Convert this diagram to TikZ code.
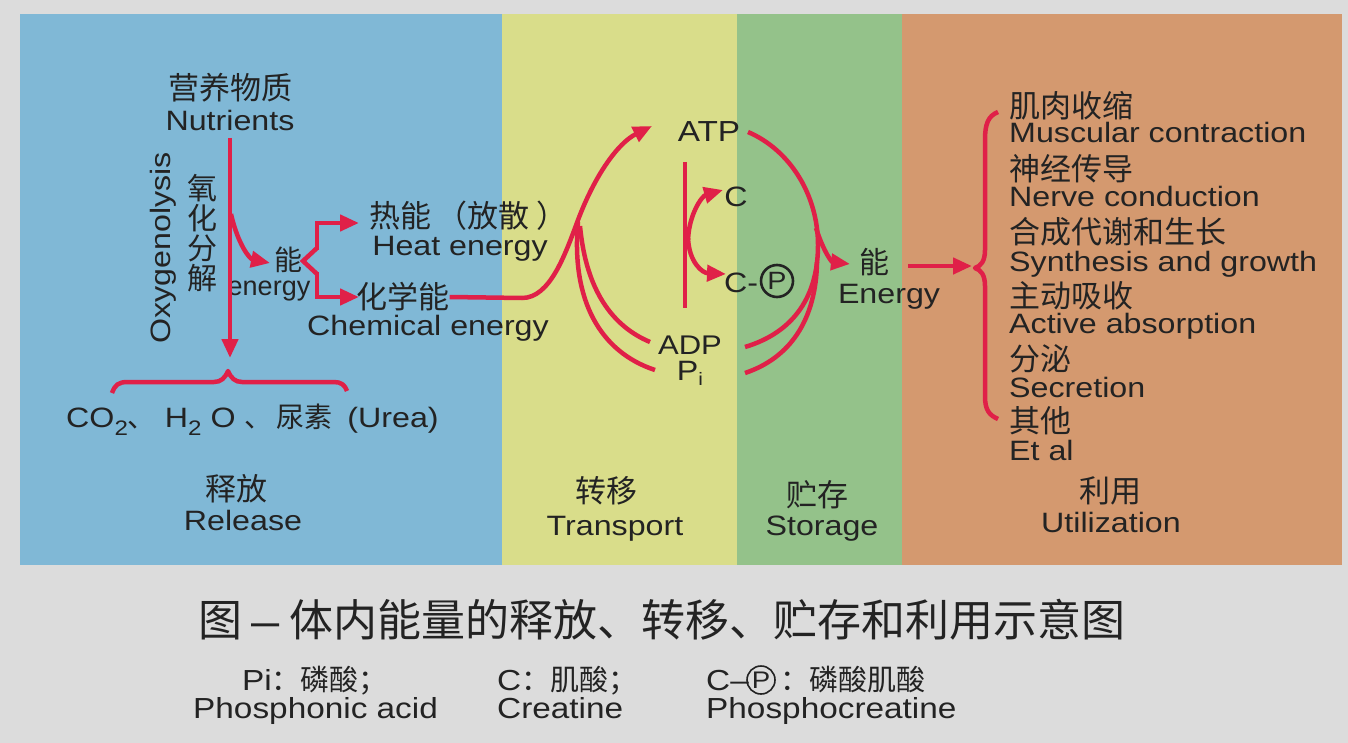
\documentclass[tikz,border=0pt]{standalone}
\usepackage{fontspec}
\setmainfont{Liberation Sans}[FakeStretch=1.15]
\newfontfamily\plainsans{Liberation Sans}
\newfontfamily\cjkfont{Noto Sans CJK SC}
\usetikzlibrary{arrows.meta}
\definecolor{bgc}{RGB}{220,220,220}
\definecolor{pblue}{RGB}{128,184,214}
\definecolor{pyellow}{RGB}{217,221,138}
\definecolor{pgreen}{RGB}{148,194,138}
\definecolor{porange}{RGB}{212,153,111}
\definecolor{myred}{RGB}{224,32,72}
\definecolor{ink}{RGB}{35,35,35}
\newcommand\zh[1]{{\cjkfont #1}}
\newcommand\subsc[1]{\raisebox{-8pt}{\fontsize{21}{21}\selectfont #1}}
\tikzset{
  lat/.style={font=\fontsize{28}{30}\selectfont, inner sep=0pt, text=ink},
  latl/.style={font=\fontsize{29}{31}\selectfont, inner sep=0pt, text=ink},
  zhs/.style={font=\fontsize{31}{33}\cjkfont, inner sep=0pt, text=ink},
  ln/.style={draw=myred, line width=4.5pt},
  arr/.style={draw=myred, line width=4.5pt, -{Triangle[length=19pt,width=16pt]}},
  circp/.style={draw=ink, circle, inner sep=0pt, text=ink},
}
\begin{document}
\begin{tikzpicture}[x=1pt,y=-1pt]
\useasboundingbox (0,0) rectangle (1348,743);
\fill[bgc] (0,0) rectangle (1348,743);
% panels
\fill[pblue] (20,14) rectangle (502,565);
\fill[pyellow] (502,14) rectangle (737,565);
\fill[pgreen] (737,14) rectangle (902,565);
\fill[porange] (902,14) rectangle (1342,565);

% ---------- Release panel ----------
\node[zhs] (nutcn) at (230,88) {营养物质};
\node[lat, anchor=base] (nut) at (230,131) {Nutrients};
\node[lat, rotate=90, anchor=base] (oxy) at (170,248) {Oxygenolysis};
\node[font=\fontsize{30}{30}\cjkfont, inner sep=0pt, text=ink, align=center] (oxycn) at (202,233) {氧\\化\\分\\解};
\node[font=\fontsize{28}{30}\cjkfont, inner sep=0pt, text=ink] (neng1) at (288,260) {能};
\node[font=\fontsize{27}{29}\plainsans, inner sep=0pt, text=ink, anchor=base] (energy1) at (269,295) {energy};
\node[zhs] (heatcn) at (468,216) {热能\hspace{6pt}（放散\hspace{6pt}）};
\node[lat, anchor=base] (heat) at (460,255) {Heat energy};
\node[zhs] (chemcn) at (403,297) {化学能};
\node[lat, anchor=base] (chem) at (428,335) {Chemical energy};
\node[lat, anchor=base west] (prod) at (66,427) {CO\subsc{2}\zh{、} H\subsc{2} O \zh{、\hspace{4pt}尿素}\hspace{6pt} (Urea)};
\node[zhs] (relcn) at (236,489) {释放};
\node[lat, anchor=base] (rel) at (243,530) {Release};

\coordinate (vstart) at (230,138);
\coordinate (vend) at (230,358);
\coordinate (bstart) at (231,214);
\coordinate (bend) at (270,263);
\draw[arr] (vstart) -- (vend);
\draw[arr] (bstart) .. controls (238,245) and (250,259) .. (bend);
% split brace
\coordinate (heattip) at (359,223);
\coordinate (chemtip) at (359,297);
\draw[arr] (317,250) -- (317,223) -- (heattip);
\draw[arr] (317,272) -- (317,297) -- (chemtip);
\draw[ln, line join=miter] (317,248) -- (303,261) -- (317,274);
% bottom brace
\draw[ln, line join=round] (112,393) .. controls (115,385) and (118,382) .. (128,382) -- (214,382)
   .. controls (221,382) and (225,378) .. (228,371) .. controls (231,378) and (235,382) .. (242,382)
   -- (334,382) .. controls (341,382) and (345,385) .. (347,391);

% ---------- Transport / storage ----------
\node[font=\fontsize{29}{31}\selectfont, inner sep=0pt, text=ink, anchor=base] (atp) at (709,142) {ATP};
\node[font=\fontsize{27}{29}\selectfont, inner sep=0pt, text=ink, anchor=base] (adp) at (690,354) {ADP};
\node[lat, anchor=base] (pi) at (690,380) {P\raisebox{-5pt}{\fontsize{18}{18}\selectfont i}};
\node[lat, anchor=base] (cc) at (736,207) {C};
\node[lat, anchor=base west] (ccp) at (724,292) {C-};
\node[circp, minimum size=32pt, line width=2.6pt, font=\fontsize{25}{25}\selectfont] (pcirc) at (777,281) {P};
\node[font=\fontsize{30}{32}\cjkfont, inner sep=0pt, text=ink] (neng2) at (874,262) {能};
\node[lat, anchor=base] (energy2) at (889,303) {Energy};
\node[zhs] (trcn) at (606,491) {转移};
\node[lat, anchor=base] (tr) at (615,535) {Transport};
\node[zhs] (stcn) at (817,495) {贮存};
\node[lat, anchor=base] (st) at (822,535) {Storage};

\coordinate (atpL) at (652,126);
\coordinate (atpR) at (748,132);
\coordinate (adpL) at (650,342);
\coordinate (adpR) at (745,347);
\coordinate (piL) at (655,370);
\coordinate (piR) at (745,373);
\draw[arr] (chemcn.east) -- (522,298) .. controls (550,298) and (565,255) .. (578,220)
   .. controls (595,175) and (618,143) .. (atpL);
\draw[ln] (piL) .. controls (600,352) and (571,300) .. (578,222);
\draw[ln] (adpL) .. controls (612,326) and (586,290) .. (580,226);
\draw[ln] (atpR) .. controls (790,150) and (818,195) .. (818,245) .. controls (818,295) and (795,332) .. (adpR);
\draw[ln] (817,262) .. controls (816,320) and (790,358) .. (piR);
\coordinate (entip) at (850,264);
\draw[arr] (816,228) .. controls (824,253) and (832,262) .. (entip);
\coordinate (vl1) at (685,162);
\coordinate (vl2) at (685,308);
\draw[ln] (vl1) -- (vl2);
\coordinate (ctip) at (723,190);
\coordinate (cptip) at (726,274);
\draw[arr] (688,240) .. controls (689,214) and (702,196) .. (ctip);
\draw[arr] (688,238) .. controls (689,262) and (702,273) .. (cptip);
\coordinate (ua) at (908,266);
\coordinate (ub) at (972,266);
\draw[arr] (ua) -- (ub);

% ---------- Utilization ----------
\draw[ln, line join=round] (998,112) .. controls (988,116) and (985,124) .. (985,140) -- (985,250)
   .. controls (985,261) and (981,266) .. (975,268) .. controls (981,270) and (985,275) .. (985,286)
   -- (985,396) .. controls (985,410) and (989,415) .. (998,419);
\node[zhs, anchor=west] (u1c) at (1009,106) {肌肉收缩};
\node[lat, anchor=base west] (u1) at (1009,143) {Muscular contraction};
\node[zhs, anchor=west] (u2c) at (1009,169) {神经传导};
\node[lat, anchor=base west] (u2) at (1009,207) {Nerve conduction};
\node[zhs, anchor=west] (u3c) at (1009,232) {合成代谢和生长};
\node[lat, anchor=base west] (u3) at (1009,271) {Synthesis and growth};
\node[zhs, anchor=west] (u4c) at (1009,296) {主动吸收};
\node[lat, anchor=base west] (u4) at (1009,333) {Active absorption};
\node[zhs, anchor=west] (u5c) at (1009,359) {分泌};
\node[lat, anchor=base west] (u5) at (1009,397) {Secretion};
\node[zhs, anchor=west] (u6c) at (1009,421) {其他};
\node[lat, anchor=base west] (u6) at (1009,460) {Et al};
\node[zhs] (utcn) at (1110,491) {利用};
\node[lat, anchor=base] (ut) at (1111,532) {Utilization};

% ---------- Caption ----------
\node[font=\fontsize{44}{46}\cjkfont, inner sep=0pt, text=ink] (title) at (662,620)
  {图 {\fontsize{44}{46}\rmfamily –} 体内能量的释放、转移、贮存和利用示意图};
\node[latl, anchor=base west] (lg1) at (242,690) {Pi\zh{：磷酸；}};
\node[latl, anchor=base west] (lg1e) at (193,718) {Phosphonic acid};
\node[latl, anchor=base west] (lg2) at (497,690) {C\zh{：肌酸；}};
\node[latl, anchor=base west] (lg2e) at (497,718) {Creatine};
\node[latl, anchor=base west] (lg3a) at (706,690) {C–};
\node[circp, minimum size=28pt, line width=1.6pt, font=\fontsize{24}{24}\selectfont] (lgp) at (761,680) {P};
\node[latl, anchor=base west] (lg3b) at (780,690) {\zh{：磷酸肌酸}};
\node[latl, anchor=base west] (lg3e) at (706,718) {Phosphocreatine};
\end{tikzpicture}
\end{document}
